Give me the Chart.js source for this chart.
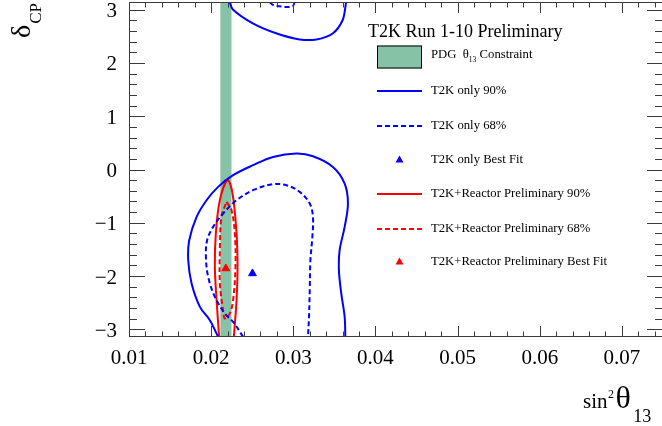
<!DOCTYPE html>
<html>
<head>
<meta charset="utf-8">
<script src="https://cdn.jsdelivr.net/npm/chart.js@4/dist/chart.umd.min.js"></script>
<style>
  html, body { margin: 0; padding: 0; overflow: hidden; background: #fff; }
  #wrap { position: absolute; left: 0; top: 0; width: 662px; height: 426px; overflow: hidden; }
</style>
</head>
<body>
<div id="wrap"><canvas id="contours" width="664" height="426"></canvas></div>
<script>
// T2K sin^2(theta13) vs delta_CP contours
const PI = Math.PI;
const xTicks = [0.01, 0.02, 0.03, 0.04, 0.05, 0.06, 0.07];
const yTicks = [-3, -2, -1, 0, 1, 2, 3];

const pdgBand = [0.0211, 0.0225];

const t2k90Low = [[0.02085,-3.14],[0.01984,-2.826],[0.01863,-2.576],[0.01762,-2.138],[0.01721,-1.701],
  [0.01733,-1.326],[0.01823,-0.889],[0.01944,-0.576],[0.02085,-0.326],[0.02267,-0.107],[0.0251,0.081],
  [0.02753,0.236],[0.03038,0.30],[0.03239,0.249],[0.03482,0.049],[0.03625,-0.263],[0.03665,-0.638],
  [0.03625,-1.076],[0.03564,-1.513],[0.03555,-1.888],[0.03584,-2.326],[0.03625,-2.764],[0.03633,-3.14]];
const t2k90High = [[0.02227,3.14],[0.02264,3.0],[0.02507,2.74],[0.02798,2.55],[0.03078,2.44],
  [0.03284,2.44],[0.03479,2.55],[0.036,2.80],[0.03637,3.08],[0.0364,3.14]];
const t2k68Low = [[0.02389,-3.14],[0.02267,-2.858],[0.02166,-2.70],[0.02045,-2.389],[0.01964,-2.014],
  [0.01936,-1.639],[0.01951,-1.326],[0.02024,-1.076],[0.02146,-0.825],[0.02309,-0.576],[0.0251,-0.388],
  [0.02753,-0.276],[0.02916,-0.294],[0.03078,-0.42],[0.032,-0.638],[0.03239,-0.889],[0.03232,-1.264],
  [0.03208,-1.701],[0.032,-2.263],[0.03191,-2.764],[0.03179,-3.14]];
const t2k68High = [[0.02713,3.14],[0.0275,3.09],[0.02896,3.05],[0.0299,3.06],[0.03017,3.14]];
const t2kBest = [[0.02503,-1.95]];

const reac90 = [[0.02097,-3.14],[0.02066,-2.451],[0.02045,-1.826],[0.02057,-1.2],[0.02106,-0.576],
  [0.0220,-0.2],[0.0226,-0.45],[0.02309,-1.2],[0.02321,-1.826],[0.02309,-2.451],[0.02276,-3.14]];
const reac68 = [[0.02187,-0.607],[0.02248,-0.763],[0.02288,-1.2],[0.02296,-1.826],[0.02267,-2.451],
  [0.02227,-2.70],[0.02166,-2.794],[0.02139,-2.576],[0.02106,-2.138],[0.02106,-1.513],[0.02126,-0.889],
  [0.02187,-0.607]];
const reacBest = [[0.02179,-1.857]];

const BLUE = '#0000ff', RED = '#ff0000', GREEN = '#86c2a5';
const FONT = '"Liberation Serif", "Times New Roman", serif';
const pts = arr => arr.map(p => ({x: p[0], y: p[1]}));

function contour(label, data, color, dashed, legend) {
  return {
    label: label, data: pts(data), showLine: true, borderColor: color, borderWidth: 2,
    borderDash: dashed ? [5, 3] : [], pointRadius: 0, tension: 0.35, fill: false,
    legendKind: legend
  };
}
function bestFit(label, data, color) {
  return {
    label: label, data: pts(data), showLine: false, pointStyle: 'triangle', pointRadius: 4.5,
    backgroundColor: color, borderColor: color, borderWidth: 1, legendKind: 'marker'
  };
}

// draws "a_{sub}" style text, returns width
function richText(ctx, text, x, y, size) {
  const parts = text.split(/(_\{[^}]*\})/);
  let cx = x;
  parts.forEach(p => {
    if (!p) return;
    let s = size, dy = 0, t = p;
    if (p.startsWith('_{')) { t = p.slice(2, -1); s = size * 0.6; dy = size * 0.38; }
    ctx.font = s + 'px ' + FONT;
    ctx.fillText(t, cx, y + dy);
    cx += ctx.measureText(t).width;
  });
  return cx - x;
}

const framePlugin = {
  id: 'frame',
  afterDatasetsDraw(chart) {
    const {ctx, chartArea: a, scales: {x, y}} = chart;
    ctx.save();
    ctx.strokeStyle = '#3a3a3a';
    ctx.lineWidth = 1;
    ctx.beginPath();
    ctx.rect(a.left + 0.5, a.top + 0.5, a.right - a.left - 1, a.bottom - a.top - 1);
    for (let i = 0; i <= 40; i++) {
      const v = 0.01 + i * 0.002;
      if (v > x.max + 1e-9) break;
      const px = Math.round(x.getPixelForValue(v)) + 0.5;
      const len = i % 5 === 0 ? 11 : 5.5;
      ctx.moveTo(px, a.bottom); ctx.lineTo(px, a.bottom - len);
      ctx.moveTo(px, a.top); ctx.lineTo(px, a.top + len);
    }
    for (let i = -15; i <= 15; i++) {
      const py = Math.round(y.getPixelForValue(i / 5)) + 0.5;
      const len = i % 5 === 0 ? 16 : 8;
      ctx.moveTo(a.left, py); ctx.lineTo(a.left + len, py);
      ctx.moveTo(a.right, py); ctx.lineTo(a.right - len, py);
    }
    ctx.stroke();
    ctx.restore();
  }
};

const titlePlugin = {
  id: 'titles',
  afterDraw(chart) {
    const ctx = chart.ctx;
    ctx.save();
    ctx.fillStyle = '#000';
    ctx.textBaseline = 'alphabetic';
    ctx.textAlign = 'left';
    // x title: sin^2 theta_13
    let x = 583;
    ctx.font = '21px ' + FONT; ctx.fillText('sin', x, 407.5); x += ctx.measureText('sin').width + 0.5;
    ctx.font = '12px ' + FONT; ctx.fillText('2', x, 397.5); x += ctx.measureText('2').width + 1.5;
    ctx.font = '32px ' + FONT; ctx.fillText('θ', x, 407.5); x += ctx.measureText('θ').width + 2.5;
    ctx.font = '18px ' + FONT; ctx.fillText('13', x, 421.5);
    // y title: delta_CP, rotated
    ctx.translate(30, 38);
    ctx.rotate(-PI / 2);
    ctx.font = '28px ' + FONT; ctx.fillText('δ', 0, 0);
    const w = ctx.measureText('δ').width;
    ctx.font = '17px ' + FONT; ctx.fillText('CP', w + 1, 11);
    ctx.restore();
  }
};

const legendPlugin = {
  id: 'legendBox',
  afterDraw(chart) {
    const ctx = chart.ctx;
    ctx.save();
    ctx.fillStyle = '#000';
    ctx.textAlign = 'left';
    ctx.textBaseline = 'middle';
    ctx.font = '18px ' + FONT;
    ctx.fillText('T2K Run 1-10 Preliminary', 368, 32);
    const rows = [55, 91, 126, 160, 194, 229, 262];
    let r = 0;
    chart.data.datasets.forEach(ds => {
      if (!ds.legendKind) return;
      const cy = rows[r++];
      ctx.save();
      if (ds.legendKind === 'box') {
        ctx.fillStyle = ds.backgroundColor;
        ctx.fillRect(377, cy - 9.5, 45, 23);
        ctx.strokeStyle = '#000'; ctx.lineWidth = 1;
        ctx.strokeRect(377.5, cy - 9, 44, 22);
      } else if (ds.legendKind === 'line') {
        ctx.strokeStyle = ds.borderColor; ctx.lineWidth = 2;
        ctx.setLineDash(ds.borderDash);
        ctx.beginPath(); ctx.moveTo(377, cy); ctx.lineTo(422, cy); ctx.stroke();
      } else {
        ctx.fillStyle = ds.backgroundColor;
        ctx.beginPath();
        ctx.moveTo(399.5, cy - 4.5); ctx.lineTo(403.5, cy + 2.5); ctx.lineTo(395.5, cy + 2.5);
        ctx.closePath(); ctx.fill();
      }
      ctx.restore();
      richText(ctx, ds.label, 431, cy, 12.7);
    });
    ctx.restore();
  }
};

new Chart(document.getElementById('contours'), {
  type: 'scatter',
  data: {
    datasets: [
      {
        label: 'PDG  θ_{13} Constraint',
        data: [{x: pdgBand[0], y: PI}, {x: pdgBand[1], y: PI}],
        showLine: true, borderWidth: 0, pointRadius: 0, fill: 'start',
        backgroundColor: GREEN, order: 10, legendKind: 'box'
      },
      contour('T2K only 90%', t2k90Low, BLUE, false, 'line'),
      contour('T2K only 90%', t2k90High, BLUE, false),
      contour('T2K only 68%', t2k68Low, BLUE, true, 'line'),
      contour('T2K only 68%', t2k68High, BLUE, true),
      bestFit('T2K only Best Fit', t2kBest, BLUE),
      contour('T2K+Reactor Preliminary 90%', reac90, RED, false, 'line'),
      contour('T2K+Reactor Preliminary 68%', reac68, RED, true, 'line'),
      bestFit('T2K+Reactor Preliminary Best Fit', reacBest, RED)
    ]
  },
  options: {
    responsive: false,
    animation: false,
    devicePixelRatio: 1,
    layout: { autoPadding: false, padding: { top: 2, right: 1, left: 0, bottom: 0 } },
    plugins: { legend: { display: false }, tooltip: { enabled: false } },
    scales: {
      x: {
        type: 'linear', min: 0.01, max: 0.075,
        grid: { display: false, drawTicks: false }, border: { display: false },
        afterBuildTicks: s => { s.ticks = xTicks.map(v => ({value: v})); },
        afterFit: s => { s.height = 89; s.paddingLeft = 0; s.paddingRight = 0; },
        ticks: {
          autoSkip: false, maxRotation: 0, padding: 9, color: '#000',
          font: { family: FONT, size: 21 },
          callback: v => v.toFixed(2)
        }
      },
      y: {
        type: 'linear', min: -PI, max: PI,
        grid: { display: false, drawTicks: false }, border: { display: false },
        afterBuildTicks: s => { s.ticks = yTicks.map(v => ({value: v})); },
        afterFit: s => { s.width = 129; s.paddingTop = 0; s.paddingBottom = 0; },
        ticks: {
          autoSkip: false, padding: 12, labelOffset: 2, color: '#000',
          font: { family: FONT, size: 21 },
          callback: v => (v < 0 ? '\u2212' : '') + Math.abs(v)
        }
      }
    }
  },
  plugins: [framePlugin, titlePlugin, legendPlugin]
});
</script>
</body>
</html>
